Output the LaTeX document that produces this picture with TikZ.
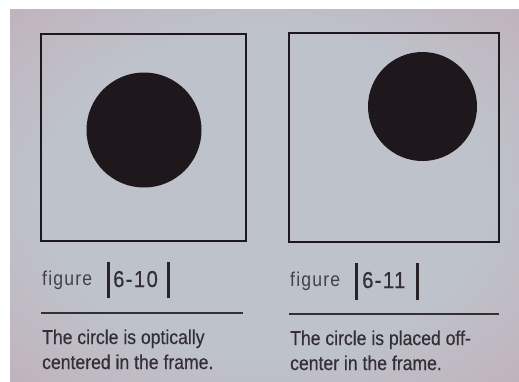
\documentclass[tikz,border=0pt]{standalone}
\usepackage{fontspec}
\setmainfont{Liberation Sans}[FakeStretch=0.88]
\definecolor{ink}{HTML}{1E171C}
\definecolor{textc}{HTML}{342E36}
\definecolor{lightc}{HTML}{45404A}
\definecolor{paperc}{HTML}{BEC2CA}
\definecolor{paperp}{HTML}{C2A8B8}
\pgfdeclareradialshading{paper}{\pgfpoint{0bp}{0bp}}{color(0bp)=(paperc); color(22bp)=(paperc); color(44bp)=(paperp); color(80bp)=(paperp)}
\tikzset{
  framebox/.style={draw=ink, line width=2.2pt, minimum width=205pt, minimum height=207pt, inner sep=0pt},
  dot/.style={circle, fill=ink, inner sep=0pt},
  rulel/.style={draw=ink!90, line width=2.4pt},
  barl/.style={draw=ink!95, line width=3pt},
  figword/.style={anchor=base west, inner sep=0pt, text=lightc, font=\fontsize{20}{24}\selectfont\addfontfeature{LetterSpace=6}},
  fignum/.style={anchor=base west, inner sep=0pt, text=textc, font=\fontsize{23}{27}\selectfont\addfontfeature{LetterSpace=6,FakeBold=0.3}},
  captext/.style={anchor=base west, inner sep=0pt, text=textc, font=\fontsize{20}{25}\selectfont\addfontfeature{FakeBold=0.4}}
}
\begin{document}
\begin{tikzpicture}[x=1pt,y=-1pt]
\useasboundingbox (0,0) rectangle (519,381);
\fill[white] (0,0) rectangle (519,381);
\shade[shading=paper] (10,9) rectangle (519,381);
% frames
\node[framebox] (f1) at (143.5,137.5) {};
\node[framebox, minimum width=210pt, minimum height=209pt] (f2) at (394,137.5) {};
% circles
\node[dot, minimum size=115pt] (c1) at (144,130) {};
\node[dot, minimum size=109pt] (c2) at (422.5,106.5) {};
% figure labels
\node[figword] (w1) at (42,285) {figure};
\node[fignum] (n1) at (113,287) {6-10};
\draw[barl] (108,262) -- (108,298);
\draw[barl] (168,262) -- (168,298);
\node[figword] (w2) at (290,286) {figure};
\node[fignum] (n2) at (362,288) {6-11};
\draw[barl] (356,263) -- (356,300);
\draw[barl] (417,263) -- (417,300);
% rules
\draw[rulel] (41,313) -- (243,313);
\draw[rulel] (289,314) -- (499,314);
% captions
\node[captext] (t1a) at (42,344) {The circle is optically};
\node[captext] (t1b) at (42,369) {centered in the frame.};
\node[captext] (t2a) at (290,345) {The circle is placed off-};
\node[captext] (t2b) at (290,370) {center in the frame.};
\end{tikzpicture}
\end{document}
